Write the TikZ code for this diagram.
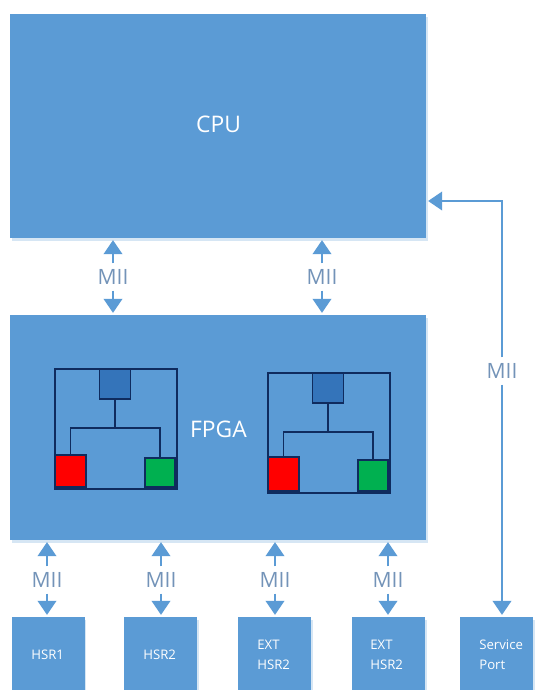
\documentclass[tikz,border=0pt]{standalone}
\usepackage{fontspec}
\setmainfont{Open Sans}
\usetikzlibrary{arrows.meta,shadows}
\definecolor{boxblue}{HTML}{5B9BD5}
\definecolor{swblue}{HTML}{3474BA}
\definecolor{swline}{HTML}{0F2B5E}
\definecolor{swred}{HTML}{FF0000}
\definecolor{swgreen}{HTML}{00B050}
\definecolor{muted}{HTML}{7393B8}
\tikzset{
  box/.style={fill=boxblue, text=white, inner sep=0pt,
              drop shadow={shadow xshift=1pt, shadow yshift=-1.5pt, fill=boxblue!25, opacity=1}},
  bigtxt/.style={text=white, inner sep=0pt, font=\fontsize{13}{13}\selectfont},
  swframe/.style={draw=swline, line width=1.1pt, anchor=north west, inner sep=0pt},
  swport/.style={draw=swline, line width=1.1pt, inner sep=0pt},
  sw/.style={draw=swline, line width=1.1pt},
  ar/.style={-{Triangle[length=8pt,width=10.5pt]}, line width=1.4pt, draw=boxblue, shorten >=1pt},
  lbl/.style={font=\fontsize{12}{12}\selectfont, color=muted, inner sep=0pt, minimum height=15pt},
  boxtxt/.style={font=\fontsize{7.5}{11.3}\selectfont, text=white, align=left, anchor=west, inner sep=0pt}
}
\begin{document}
\begin{tikzpicture}[x=0.02cm,y=-0.02cm]
  \useasboundingbox (0,0) rectangle (537,690);
  \node[box, minimum width=416*0.02cm, minimum height=224*0.02cm] (cpu) at (218,126) {};
  \node[bigtxt] (cputxt) at (218.5,124) {CPU};
  \node[box, minimum width=416*0.02cm, minimum height=225*0.02cm] (fpga) at (218,427.5) {};
  \node[bigtxt] (fpgatxt) at (218.5,429) {FPGA};
  % switches inside the fpga
  \foreach \i/\x/\y/\rh/\gh in {1/54/368/32/29, 2/267/372/34/31} {
    \node[swframe, minimum width=122*0.02cm, minimum height=120*0.02cm] (frame\i) at (\x,\y) {};
    \node[swport, fill=swblue, anchor=north, minimum width=31*0.02cm, minimum height=30*0.02cm] (top\i) at (\x+61,\y) {};
    \node[swport, fill=swred, anchor=south west, minimum width=31*0.02cm, minimum height=\rh*0.02cm] (red\i) at (\x,\y+120) {};
    \node[swport, fill=swgreen, anchor=south east, minimum width=30*0.02cm, minimum height=\gh*0.02cm] (green\i) at (\x+122,\y+120) {};
    \coordinate (bus\i) at (\x+61,\y+60);
    \draw[sw] (top\i) -- (bus\i);
    \draw[sw] (red\i.north) |- (bus\i) -| (green\i.north);
  }
  % bottom row
  \foreach \n/\x/\tx/\t in {a/48/31/HSR1, b/160.5/143/HSR2, c/274.5/257/EXT\\HSR2, d/388.5/370/EXT\\HSR2, e/496.5/479/Service\\Port} {
    \node[box, minimum width=73*0.02cm, minimum height=73*0.02cm] (port\n) at (\x,653.5) {};
    \node[boxtxt] (txt\n) at (\tx,655) {\t};
  }
  % mii links
  \foreach \n/\x/\up/\down in {1/113/cpu/fpga, 2/322/cpu/fpga} {
    \node[lbl] (mii\n) at (\x,277) {MII};
    \draw[ar] (mii\n.north) -- (\up.south -| mii\n);
    \draw[ar] (mii\n.south) -- (\down.north -| mii\n);
  }
  \foreach \n/\x in {a/47, b/161, c/275, d/388} {
    \node[lbl] (mii\n) at (\x,580) {MII};
    \draw[ar] (mii\n.north) -- (fpga.south -| mii\n);
    \draw[ar] (mii\n.south) -- (port\n.north -| mii\n);
  }
  \node[lbl] (miie) at (502,371) {MII};
  \coordinate (bend) at (502,201);
  \draw[ar] (miie.north) -- (bend) -- (cpu.east |- bend);
  \draw[ar] (miie.south) -- (porte.north -| miie);
\end{tikzpicture}
\end{document}
